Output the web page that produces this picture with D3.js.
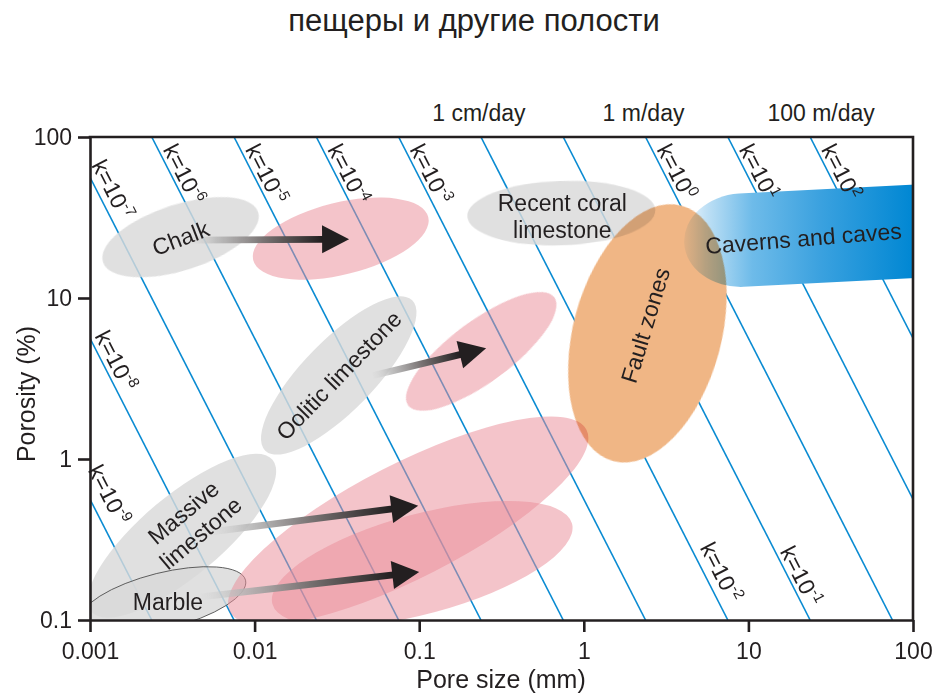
<!DOCTYPE html>
<html>
<head>
<meta charset="utf-8">
<script src="https://cdn.jsdelivr.net/npm/d3@7/dist/d3.min.js"></script>
<style>
  html, body { margin: 0; padding: 0; background: #fff; }
  svg { display: block; }
  text { font-family: "Liberation Sans", Arial, Helvetica, sans-serif; fill: #231f20; }
</style>
</head>
<body>
<svg id="chart" width="935" height="694"></svg>
<script>
// ---------------- data ----------------
const chartTitle = "пещеры и другие полости";
const xTitle = "Pore size (mm)";
const yTitle = "Porosity (%)";

const poreSizeTicks = [0.001, 0.01, 0.1, 1, 10, 100];
const poreSizeTickLabels = ["0.001", "0.01", "0.1", "1", "10", "100"];
const porosityTicks = [0.1, 1, 10, 100];
const porosityTickLabels = ["0.1", "1", "10", "100"];

// permeability lines: log10(porosity) + 2*log10(poreSize) = permConst + log10(k)
const permConst = 2.75;
const permExponents = [-9, -8, -7, -6, -5, -4, -3, -2, -1, 0, 1, 2];
const permExponentText = ["-9", "-8", "-7", "-6", "-5", "-4", "-3", "-2", "-1", "0", "1", "2"];

// flow velocity labels placed above the lines they belong to
const velocityLabels = ["1 cm/day", "1 m/day", "100 m/day"];
const velocityExponents = [-2, 0, 2];

// rock fields: ends of the long axis (pore size mm, porosity %), half width in decades
const regionNames = ["Chalk", "Recent coral limestone", "Oolitic limestone", "Massive limestone", "Marble",
                     "chalk-altered", "oolitic-altered", "massive-altered", "marble-altered", "Fault zones"];
const regionKinds = ["rock", "rock", "rock", "rock", "marble",
                     "altered", "altered", "altered", "altered", "fault"];
const regionStart = [[0.0012, 16.7], [0.196, 32.2], [0.0116, 1.127], [0.00102, 0.1127], [0.000875, 0.098],
                     [0.0098, 17.2], [0.0857, 2.15], [0.00708, 0.1127], [0.01283, 0.1258], [1.51, 0.97]];
const regionEnd = [[0.0105, 34.1], [2.72, 35.2], [0.0907, 9.68], [0.01285, 0.989], [0.00881, 0.1767],
                   [0.1135, 31.8], [0.662, 10.1], [1.038, 1.52], [0.848, 0.397], [3.92, 37.5]];
const regionHalfWidth = [0.205, 0.2, 0.22, 0.25, 0.174, 0.224, 0.19, 0.355, 0.31, 0.46];

// caverns and caves band
const cavernName = "Caverns and caves";
const cavernStart = [4.03, 21.9];
const cavernEnd = [194, 26.8];
const cavernHalfWidth = 0.29;

// alteration arrows (tail -> head), pore size mm / porosity %
const arrowTail = [[0.00405, 22.9], [0.0525, 3.30], [0.00544, 0.353], [0.00473, 0.139]];
const arrowHead = [[0.0375, 23.2], [0.255, 4.87], [0.0986, 0.513], [0.1, 0.199]];

// ---------------- layout ----------------
const svg = d3.select("#chart");
const plot = { left: 90, right: 913, top: 137, bottom: 620 };
const x = d3.scaleLog().domain([0.001, 100]).range([plot.left, plot.right]);
const y = d3.scaleLog().domain([0.1, 100]).range([plot.bottom, plot.top]);
const decW = x(10) - x(1);
const decH = y(1) - y(10);
const ink = "#231f20";

const defs = svg.append("defs");
defs.append("clipPath").attr("id", "plotClip")
  .append("rect")
  .attr("x", plot.left).attr("y", plot.top)
  .attr("width", plot.right - plot.left).attr("height", plot.bottom - plot.top);

// title
svg.append("text")
  .attr("x", 474).attr("y", 31)
  .attr("text-anchor", "middle")
  .style("font-size", "31px")
  .text(chartTitle);

// ---------------- permeability lines ----------------
const [lx0, lx1] = x.domain().map(Math.log10);
const [ly0, ly1] = y.domain().map(Math.log10);
function permSegment(e) {
  // enter at top edge or left edge, leave at bottom edge or right edge
  let a = (permConst + e - ly1) / 2;
  let start = a < lx0 ? [lx0, permConst + e - 2 * lx0] : [a, ly1];
  let b = (permConst + e - ly0) / 2;
  let end = b > lx1 ? [lx1, permConst + e - 2 * lx1] : [b, ly0];
  return [start, end].map(p => [Math.pow(10, p[0]), Math.pow(10, p[1])]);
}
const lineGen = d3.line().x(d => x(d[0])).y(d => y(d[1]));
const gLines = svg.append("g").attr("clip-path", "url(#plotClip)");
gLines.selectAll("path.perm")
  .data(permExponents)
  .join("path")
  .attr("class", "perm")
  .attr("d", e => lineGen(permSegment(e)))
  .attr("fill", "none")
  .attr("stroke", "#0a8bd2")
  .attr("stroke-width", 1.6);

// ---------------- fields ----------------
function ellipseGeom(i) {
  const p0 = [x(regionStart[i][0]), y(regionStart[i][1])];
  const p1 = [x(regionEnd[i][0]), y(regionEnd[i][1])];
  const cx = (p0[0] + p1[0]) / 2, cy = (p0[1] + p1[1]) / 2;
  const rx = Math.hypot(p1[0] - p0[0], p1[1] - p0[1]) / 2;
  const ang = Math.atan2(p1[1] - p0[1], p1[0] - p0[0]) * 180 / Math.PI;
  return { cx, cy, rx, ry: regionHalfWidth[i] * decH, ang };
}
const kindStyle = {
  rock:    { fill: "#d9d9d9", opacity: 0.82, blend: "normal", stroke: "none" },
  marble:  { fill: "#d9d9d9", opacity: 0.82, blend: "normal", stroke: "#4a4a4a" },
  altered: { fill: "#ea8d99", opacity: 0.52, blend: "normal", stroke: "none" },
  fault:   { fill: "#f0b685", opacity: 1, blend: "multiply", stroke: "none" }
};
const drawOrder = ["rock", "marble", "altered", "fault"];
const gFields = svg.append("g").attr("clip-path", "url(#plotClip)");
const idx = d3.range(regionNames.length)
  .sort((a, b) => drawOrder.indexOf(regionKinds[a]) - drawOrder.indexOf(regionKinds[b]));
idx.forEach(i => {
  const g = ellipseGeom(i), s = kindStyle[regionKinds[i]];
  gFields.append("ellipse")
    .attr("cx", g.cx).attr("cy", g.cy).attr("rx", g.rx).attr("ry", g.ry)
    .attr("transform", `rotate(${g.ang} ${g.cx} ${g.cy})`)
    .attr("fill", s.fill).attr("fill-opacity", s.opacity)
    .attr("stroke", s.stroke).attr("stroke-width", 0.8)
    .style("mix-blend-mode", s.blend);
});

// caverns band with a rounded left end
(function () {
  const p0 = [x(cavernStart[0]), y(cavernStart[1])];
  const p1 = [x(cavernEnd[0]), y(cavernEnd[1])];
  const L = Math.hypot(p1[0] - p0[0], p1[1] - p0[1]);
  const t = Math.atan2(p1[1] - p0[1], p1[0] - p0[0]);
  const c = Math.cos(t), s = Math.sin(t);
  const h = cavernHalfWidth * decH, a = 58;
  const P = (u, v) => [p0[0] + u * c - v * s, p0[1] + u * s + v * c];
  const f = p => p[0].toFixed(2) + "," + p[1].toFixed(2);
  const d = `M${f(P(a, -h))}L${f(P(L, -h))}L${f(P(L, h))}L${f(P(a, h))}` +
            `A${a},${h} ${t * 180 / Math.PI} 0 1 ${f(P(a, -h))}Z`;
  const grad = defs.append("linearGradient").attr("id", "cavernGrad")
    .attr("gradientUnits", "userSpaceOnUse")
    .attr("x1", p0[0]).attr("y1", 0).attr("x2", plot.right).attr("y2", 0);
  [[0, "#f2f8fd"], [0.1, "#bfe0f5"], [0.3, "#6ebbe9"], [0.6, "#3aa1df"], [1, "#0087d3"]]
    .forEach(([o, col]) => grad.append("stop").attr("offset", o).attr("stop-color", col));
  gFields.append("path").attr("d", d)
    .attr("fill", "url(#cavernGrad)")
    .style("mix-blend-mode", "multiply");
})();

// ---------------- arrows ----------------
const gArrows = svg.append("g");
arrowTail.forEach((tl, i) => {
  const p0 = [x(tl[0]), y(tl[1])];
  const p1 = [x(arrowHead[i][0]), y(arrowHead[i][1])];
  const dx = p1[0] - p0[0], dy = p1[1] - p0[1], len = Math.hypot(dx, dy);
  const ux = dx / len, uy = dy / len, nx = -uy, ny = ux;
  const headLen = 27, headHalf = 14, shaftHalf = 3.4;
  const b = [p1[0] - ux * headLen, p1[1] - uy * headLen];
  const grad = defs.append("linearGradient").attr("id", "arrowGrad" + i)
    .attr("gradientUnits", "userSpaceOnUse")
    .attr("x1", p0[0]).attr("y1", p0[1]).attr("x2", b[0]).attr("y2", b[1]);
  [[0, "#d4d4d4", 0.15], [0.2, "#b8b8b8", 0.85], [0.55, "#7a7474", 1], [1, ink, 1]]
    .forEach(([o, col, op]) => grad.append("stop").attr("offset", o)
      .attr("stop-color", col).attr("stop-opacity", op));
  const shaft = [
    [p0[0] + nx * shaftHalf, p0[1] + ny * shaftHalf],
    [b[0] + nx * shaftHalf + ux, b[1] + ny * shaftHalf + uy],
    [b[0] - nx * shaftHalf + ux, b[1] - ny * shaftHalf + uy],
    [p0[0] - nx * shaftHalf, p0[1] - ny * shaftHalf]
  ];
  gArrows.append("polygon").attr("points", shaft.map(p => p.join(",")).join(" "))
    .attr("fill", `url(#arrowGrad${i})`);
  const head = [p1, [b[0] + nx * headHalf, b[1] + ny * headHalf], [b[0] - nx * headHalf, b[1] - ny * headHalf]];
  gArrows.append("polygon").attr("points", head.map(p => p.join(",")).join(" "))
    .attr("fill", ink);
});

// ---------------- axes ----------------
const gx = svg.append("g").attr("transform", `translate(0,${plot.bottom})`)
  .call(d3.axisBottom(x).tickValues(poreSizeTicks)
    .tickFormat((d, i) => poreSizeTickLabels[i]).tickSize(12).tickSizeOuter(0).tickPadding(11));
const gy = svg.append("g").attr("transform", `translate(${plot.left},0)`)
  .call(d3.axisLeft(y).tickValues(porosityTicks)
    .tickFormat((d, i) => porosityTickLabels[i]).tickSize(12).tickSizeOuter(0).tickPadding(6));
[gx, gy].forEach(g => {
  g.selectAll("path.domain").attr("stroke", ink).attr("stroke-width", 2.6);
  g.selectAll(".tick line").attr("stroke", ink).attr("stroke-width", 2.6);
  g.selectAll(".tick text").style("font-size", "23px").attr("fill", ink)
    .style("font-family", '"Liberation Sans", Arial, sans-serif');
});
svg.append("path")
  .attr("d", `M${plot.left - 1.3},${plot.top}H${plot.right}V${plot.bottom}`)
  .attr("fill", "none").attr("stroke", ink).attr("stroke-width", 2.6);

svg.append("text").attr("x", 501).attr("y", 688).attr("text-anchor", "middle")
  .style("font-size", "25px").text(xTitle);
svg.append("text").attr("transform", "translate(35,394) rotate(-90)").attr("text-anchor", "middle")
  .style("font-size", "25px").text(yTitle);

// ---------------- line labels ----------------
const lineAngle = Math.atan2(2 * decH, decW);
const lineAngleDeg = lineAngle * 180 / Math.PI;
// where each label starts (screen y on its line) and its gap from the line
const permLabelPlace = {
  "-9": [475, 11], "-8": [338, 4.8], "-7": [168, 6.5], "-6": [151, 4], "-5": [151, 4],
  "-4": [151, 4], "-3": [151, 4], "-2": [551, 7.7], "-1": [553, 4],
  "0": [151, 4], "1": [151, 4], "2": [151, 4]
};
const gLab = svg.append("g");
permExponents.forEach((e, i) => {
  const [yy, gap] = permLabelPlace[String(e)];
  const phi = y.invert(yy);
  const xx = x(Math.pow(10, (permConst + e - Math.log10(phi)) / 2));
  const ox = xx + gap * Math.sin(lineAngle), oy = yy - gap * Math.cos(lineAngle);
  const t = gLab.append("text")
    .attr("transform", `translate(${ox},${oy}) rotate(${lineAngleDeg})`)
    .style("font-size", "23px");
  t.append("tspan").text("k=10");
  t.append("tspan").attr("dy", -9).style("font-size", "15px").text(permExponentText[i]);
});

velocityLabels.forEach((lab, i) => {
  const e = velocityExponents[i];
  const xt = x(Math.pow(10, (permConst + e - ly1) / 2));
  const shift = [-2, -2, 11][i];
  svg.append("text").attr("x", xt + shift).attr("y", 121).attr("text-anchor", "middle")
    .style("font-size", "23px").text(lab);
});

// ---------------- field labels ----------------
const fieldLabelPlace = {
  "Chalk": { dx: 0, dy: 1, rot: -21, lines: ["Chalk"] },
  "Recent coral limestone": { dx: 1, dy: 3, rot: 0, lines: ["Recent coral", "limestone"] },
  "Oolitic limestone": { dx: 0, dy: 0, rot: -46, lines: ["Oolitic limestone"] },
  "Massive limestone": { dx: 10, dy: -13, rot: -40, lines: ["Massive", "limestone"] },
  "Marble": { dx: 5, dy: 1, rot: 0, lines: ["Marble"] },
  "Fault zones": { dx: -2, dy: -8, rot: -73, lines: ["Fault zones"] }
};
regionNames.forEach((name, i) => {
  const pl = fieldLabelPlace[name];
  if (!pl) return;
  const g = ellipseGeom(i);
  const t = svg.append("text")
    .attr("transform", `translate(${g.cx + pl.dx},${g.cy + pl.dy}) rotate(${pl.rot})`)
    .attr("text-anchor", "middle").style("font-size", "23px");
  const n = pl.lines.length;
  pl.lines.forEach((ln, k) => {
    t.append("tspan").attr("x", 0)
      .attr("y", (k - (n - 1) / 2) * 27)
      .attr("dy", "0.35em").text(ln);
  });
});
(function () {
  const p0 = [x(cavernStart[0]), y(cavernStart[1])];
  svg.append("text")
    .attr("transform", `translate(${p0[0] + 120},${p0[1] - 5}) rotate(-4.5)`)
    .attr("text-anchor", "middle").attr("dy", "0.35em")
    .style("font-size", "23px").text(cavernName);
})();
</script>
</body>
</html>
